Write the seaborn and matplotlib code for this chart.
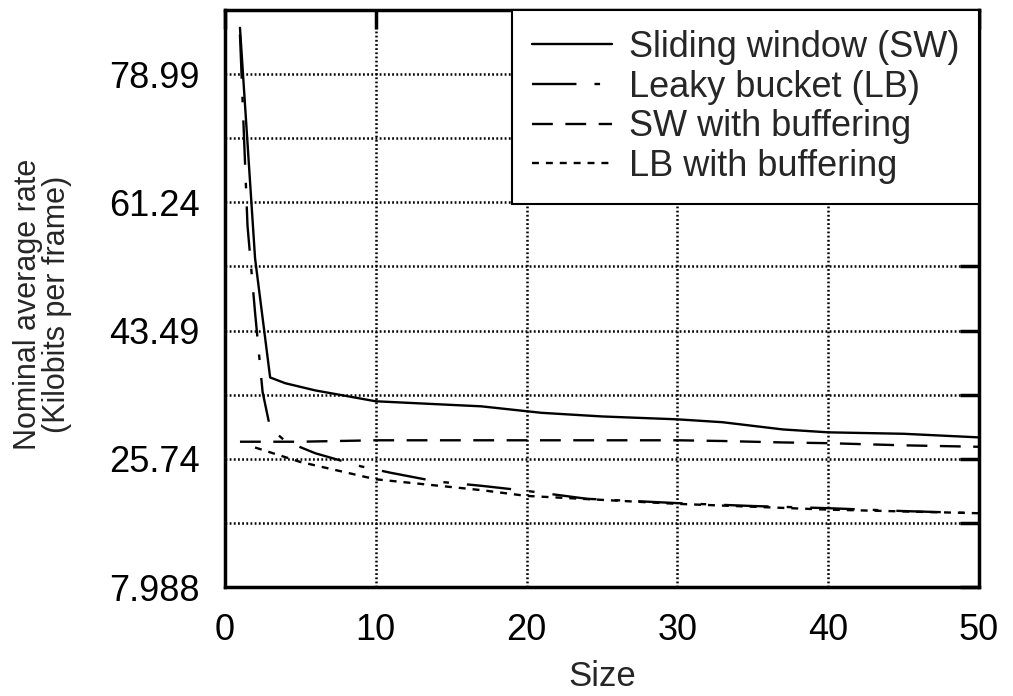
import matplotlib
matplotlib.use("Agg")
import matplotlib.pyplot as plt
import seaborn as sns
from matplotlib.ticker import FixedLocator

# data
size_sw = [1, 2, 3, 4, 6, 10, 14, 17, 21, 25, 30, 33, 37, 40, 45, 50]
rate_sw = [85.4, 53.5, 37.0, 36.2, 35.2, 33.7, 33.3, 33.0, 32.1, 31.6, 31.2, 30.8, 29.8, 29.4, 29.2, 28.7]

size_lb = [1, 1.5, 2, 2.5, 3, 4, 6, 9, 11, 14, 17, 20, 24, 30, 35, 40, 45, 50]
rate_lb = [84.5, 58.0, 46.0, 35.0, 30.0, 28.2, 26.5, 24.7, 23.8, 22.6, 22.0, 21.3, 20.2, 19.6, 19.2, 18.9, 18.5, 18.2]

size_swb = [1, 5, 10, 20, 30, 33, 37, 40, 45, 50]
rate_swb = [28.1, 28.1, 28.3, 28.3, 28.3, 28.2, 28.0, 27.9, 27.6, 27.4]

size_lbb = [2, 5, 10, 17, 20, 30, 40, 50]
rate_lbb = [27.3, 25.3, 22.9, 21.4, 20.6, 19.5, 18.7, 18.2]

ytick_vals = [7.988, 25.738, 43.488, 61.238, 78.988]
ytick_labels = ["7.988", "25.74", "43.49", "61.24", "78.99"]
yminor_vals = [16.863, 34.613, 52.363, 70.113]

sns.set_style("white")
plt.rcParams['font.family'] = ['Liberation Sans', 'DejaVu Sans']
plt.rcParams['lines.scale_dashes'] = False

fig = plt.figure(figsize=(10.13, 6.96), dpi=100)
ax = fig.add_axes([0.222, 0.1566, 0.7444, 0.829])

sns.lineplot(x=size_sw, y=rate_sw, ax=ax, color="black", lw=1.7,
             linestyle="-", label="Sliding window (SW)")
sns.lineplot(x=size_lb, y=rate_lb, ax=ax, color="black", lw=1.7,
             linestyle=(0, (32, 13, 4, 13)), label="Leaky bucket (LB)")
sns.lineplot(x=size_swb, y=rate_swb, ax=ax, color="black", lw=1.7,
             linestyle=(0, (15, 9)), label="SW with buffering")
sns.lineplot(x=size_lbb, y=rate_lbb, ax=ax, color="black", lw=1.7,
             linestyle=(0, (5, 5)), label="LB with buffering")

ax.set_xlim(0, 50)
ax.set_ylim(7.988, 87.863)
ax.set_xticks([0, 10, 20, 30, 40, 50])
ax.yaxis.set_major_locator(FixedLocator(ytick_vals))
ax.set_yticklabels(ytick_labels)
ax.yaxis.set_minor_locator(FixedLocator(yminor_vals))

grid_style = dict(color="black", linestyle=(0, (1.3, 1.7)), lw=1.8)
ax.grid(True, which="both", axis="y", **grid_style)
ax.grid(True, which="major", axis="x", **grid_style)

ax.tick_params(axis="both", which="both", direction="in", length=14, width=2.5,
               top=True, right=True, colors="black", labelsize=26)
ax.tick_params(axis="x", pad=19)
ax.tick_params(axis="y", pad=18)

for sp in ax.spines.values():
    sp.set_linewidth(2.5)
    sp.set_color("black")

ax.set_xlabel("Size", fontsize=25, labelpad=8)
ax.set_ylabel("")
fig.text(0.042, 0.562, "Nominal average rate\n(Kilobits per frame)", rotation=90,
         ha="center", va="center", multialignment="center", fontsize=22, linespacing=0.95)

leg = ax.legend(loc="upper right", borderaxespad=0, fontsize=26, frameon=True,
                fancybox=False, edgecolor="black", framealpha=1,
                handlelength=2.2, handletextpad=0.47, labelspacing=0.13, borderpad=0.55)
leg.get_frame().set_linewidth(1.5)

fig.savefig("out.png", dpi=100)
